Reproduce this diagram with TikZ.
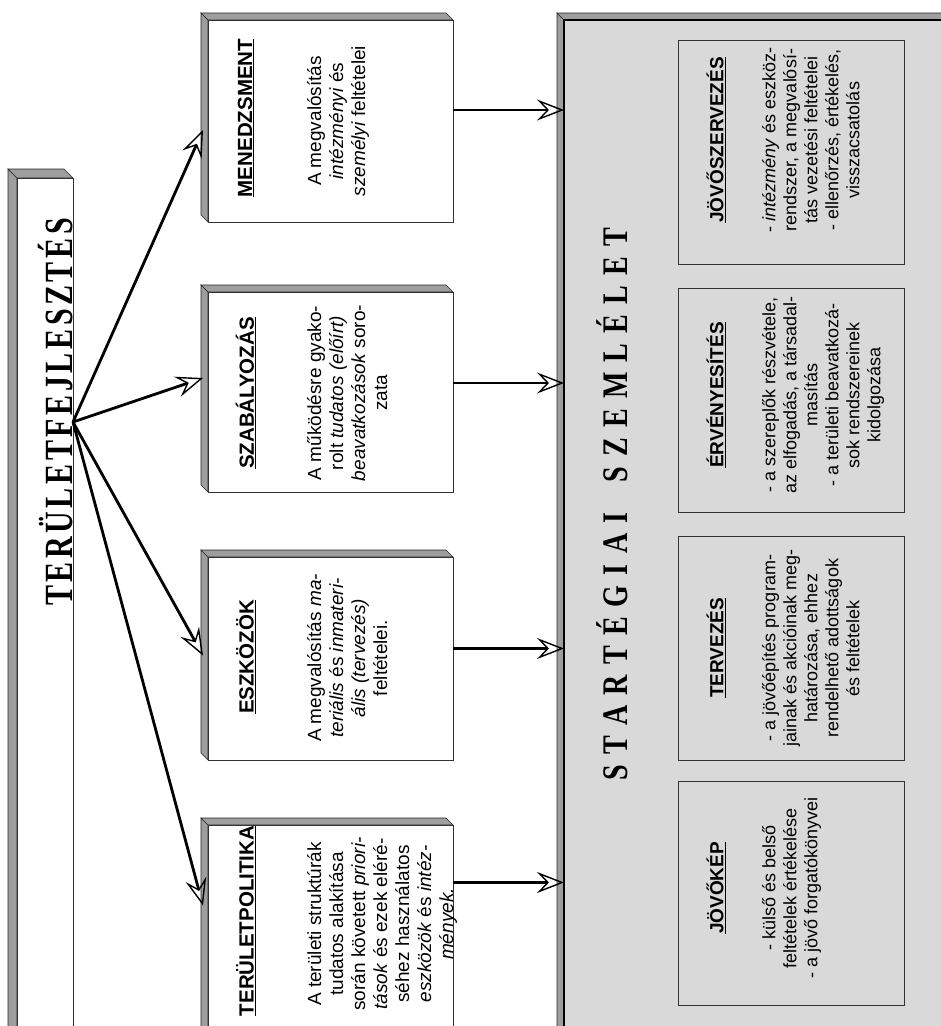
\documentclass[tikz,border=0pt]{standalone}
\usepackage{fontspec}
\usepackage{graphicx}
\setmainfont{Liberation Sans}
\newfontfamily\tserif{Liberation Serif}
\usetikzlibrary{arrows.meta,calc}
\newcommand\bevels[5]{%
 \filldraw[bev] ({#1-#5},{#2-#5}) -- (#1,#2) -- (#1,#4) -- ({#1-#5},{#4-#5}) -- cycle;
 \filldraw[bev] ({#1-#5},{#2-#5}) -- ({#3-#5},{#2-#5}) -- (#3,#2) -- (#1,#2) -- cycle;
}
\newcommand\lk{\kern4.8pt }
\newcommand\sk{\kern13pt }
\begin{document}
\begin{tikzpicture}[x=1pt,y=-1pt,
 bev/.style={fill=black!38, draw=black!85, line width=0.6pt},
 face/.style={draw=black!80, line width=0.8pt, fill=white, inner sep=0pt, outer sep=0pt},
 arr/.style={line width=2.8pt, -{Stealth[open, length=27pt, width=21pt, inset=10pt, line width=1.4pt]}},
 head/.style={rotate=90, font=\fontsize{20.5}{22}\selectfont\bfseries, inner sep=0pt},
 colbody/.style={rotate=90, anchor=north, align=center, inner sep=0pt, font=\fontsize{19}{22}\selectfont},
 inbox/.style={draw=black!80, line width=0.9pt, inner sep=0pt, minimum width=226pt, minimum height=224pt},
 inhead/.style={rotate=90, font=\fontsize{19}{21}\selectfont\bfseries, inner sep=0pt},
 inbody/.style={rotate=90, anchor=north, align=center, inner sep=0pt, font=\fontsize{18}{21}\selectfont}
]
\useasboundingbox (0,0) rectangle (941,1026);
\clip (0,0) rectangle (941,1026);
\fill[white] (0,0) rectangle (941,1026);

% title box
\bevels{17}{178}{73}{1040}{9}
\node[face, minimum width=56pt, minimum height=862pt] (title) at (45,609) {};
\node[rotate=90, inner sep=0pt, font=\tserif\bfseries\fontsize{40}{42}\selectfont] (ttext) at (56,412)
 {\scalebox{0.75}[1]{T\lk E\lk R\lk Ü\lk L\lk E\lk T\lk F\lk E\lk J\lk L\lk E\lk S\lk Z\lk T\lk É\lk S}};
\coordinate (hub) at (73,422);

% column boxes
\bevels{208}{20}{453}{222}{7}
\node[face, minimum width=245pt, minimum height=202pt] (b1) at (330.5,121) {};
\bevels{208}{292}{453}{492}{7}
\node[face, minimum width=245pt, minimum height=200pt] (b2) at (330.5,392) {};
\bevels{208}{557}{453}{760}{7}
\node[face, minimum width=245pt, minimum height=203pt] (b3) at (330.5,658.5) {};
\bevels{208}{825}{453}{1040}{7}
\node[face, minimum width=245pt, minimum height=215pt] (b4) at (330.5,932.5) {};

\node[head] (h1) at (246,118) {\underline{MENEDZSMENT}};
\node[colbody] (t1) at (307,121) {A megvalósítás\\ \textit{intézményi} és\\ \textit{személyi} feltételei};
\node[head] (h2) at (246,393) {\underline{SZABÁLYOZÁS}};
\node[colbody] (t2) at (307,393) {A működésre gyako-\\ rolt \textit{tudatos (előírt)}\\ \textit{beavatkozások} soro-\\ zata};
\node[head] (h3) at (246,657) {\underline{ESZKÖZÖK}};
\node[colbody] (t3) at (307,658) {A megvalósítás \textit{ma-}\\ \textit{teriális} és \textit{inmateri-}\\ \textit{ális (tervezés)}\\ feltételei.};
\node[head] (h4) at (246,921) {\underline{TERÜLETPOLITIKA}};
\node[colbody] (t4) at (307,924) {A területi struktúrák\\ tudatos alakítása\\ során követett \textit{priori-}\\ \textit{tások} és ezek eléré-\\ séhez használatos\\ \textit{eszközök} és \textit{intéz-}\\ \textit{mények.}};

% big box
\bevels{564}{20}{960}{1040}{7}
\node[face, fill=black!15, draw=none, minimum width=396pt, minimum height=1020pt] (big) at (762,530) {};
\draw[line width=2.4pt] (big.south west) -- (big.north west) -- (big.north east);
\node[rotate=90, inner sep=0pt, font=\tserif\bfseries\fontsize{36}{38}\selectfont] (btext) at (612,504)
 {\scalebox{0.78}[1]{S\sk T\sk A\sk R\sk T\sk É\sk G\sk I\sk A\sk I\kern39pt S\sk Z\sk E\sk M\sk L\sk É\sk L\sk E\sk T}};

% inner boxes
\node[inbox] (i1) at (791,152) {};
\node[inbox] (i2) at (791,400) {};
\node[inbox] (i3) at (791,648) {};
\node[inbox] (i4) at (791,893.5) {};
\node[inhead] (ih1) at (716,140) {\underline{JÖVŐSZERVEZÉS}};
\node[inbody] (ib1) at (762,140) {- \textit{intézmény} és eszköz-\\ rendszer, a megvalósí-\\ tás vezetési feltételei\\ - ellenőrzés, értékelés,\\ visszacsatolás};
\node[inhead] (ih2) at (716,395) {\underline{ÉRVÉNYESÍTÉS}};
\node[inbody] (ib2) at (762,395) {- a szereplők részvétele,\\ az elfogadás, a társadal-\\ masítás\\ - a területi beavatkozá-\\ sok rendszereinek\\ kidolgozása};
\node[inhead] (ih3) at (716,648) {\underline{TERVEZÉS}};
\node[inbody] (ib3) at (762,648) {- a jövőépítés program-\\ jainak és akcióinak meg-\\ határozása, ehhez\\ rendelhető adottságok\\ és feltételek};
\node[inhead] (ih4) at (716,888) {\underline{JÖVŐKÉP}};
\node[inbody] (ib4) at (762,888) {- külső és belső\\ feltételek értékelése\\ - a jövő forgatókönyvei};

% connectors
\draw[arr] (hub) -- ([xshift=-5pt,yshift=-9pt]b1.west);
\draw[arr] (hub) -- ([xshift=-5pt,yshift=14pt]b2.west);
\draw[arr] (hub) -- ([xshift=-5pt,yshift=3pt]b3.west);
\draw[arr] (hub) -- ([xshift=-5pt,yshift=27pt]b4.west);
\draw[arr] ([yshift=11pt]b1.east) -- ([yshift=11pt]b1.east -| big.west);
\draw[arr] ([yshift=9pt]b2.east) -- ([yshift=9pt]b2.east -| big.west);
\draw[arr] ([yshift=10pt]b3.east) -- ([yshift=10pt]b3.east -| big.west);
\draw[arr] ([yshift=50pt]b4.east) -- ([yshift=50pt]b4.east -| big.west);
\end{tikzpicture}
\end{document}
